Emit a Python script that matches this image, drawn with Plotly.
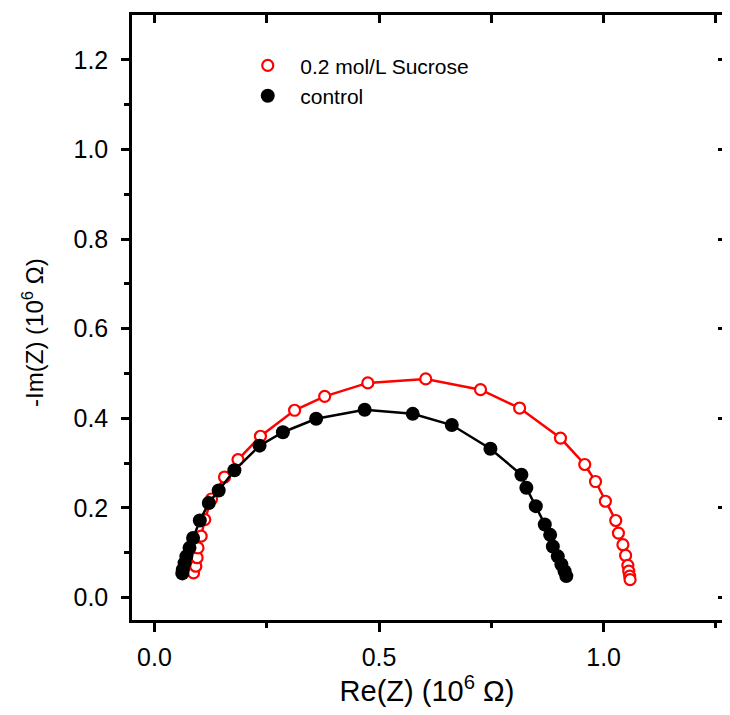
import plotly.graph_objects as go

# Nyquist data (units of 10^6 ohm)
sucrose_re = [0.087, 0.092, 0.095, 0.097, 0.104, 0.112, 0.127, 0.156, 0.186, 0.236,
              0.312, 0.379, 0.475, 0.604, 0.726, 0.813, 0.904, 0.958, 0.982, 1.004,
              1.027, 1.033, 1.043, 1.049, 1.054, 1.056, 1.058, 1.059]
sucrose_im = [0.055, 0.070, 0.089, 0.111, 0.137, 0.174, 0.220, 0.269, 0.308, 0.360,
              0.418, 0.449, 0.479, 0.488, 0.464, 0.423, 0.356, 0.297, 0.259, 0.215,
              0.172, 0.144, 0.118, 0.094, 0.072, 0.059, 0.048, 0.040]

control_re = [0.062, 0.063, 0.067, 0.071, 0.078, 0.086, 0.101, 0.121, 0.143, 0.178,
              0.234, 0.286, 0.360, 0.468, 0.575, 0.662, 0.748, 0.817, 0.828, 0.849,
              0.869, 0.881, 0.887, 0.898, 0.906, 0.913, 0.917]
control_im = [0.054, 0.062, 0.077, 0.092, 0.111, 0.133, 0.172, 0.211, 0.239, 0.284,
              0.339, 0.369, 0.399, 0.419, 0.410, 0.385, 0.332, 0.274, 0.245, 0.204,
              0.163, 0.140, 0.114, 0.092, 0.074, 0.059, 0.048]

x_ticks = [0.0, 0.5, 1.0]
x_tick_text = ["0.0", "0.5", "1.0"]
x_minor = [0.25, 0.75, 1.25]
y_ticks = [0.0, 0.2, 0.4, 0.6, 0.8, 1.0, 1.2]
y_tick_text = ["0.0", "0.2", "0.4", "0.6", "0.8", "1.0", "1.2"]
y_minor = [0.1, 0.3, 0.5, 0.7, 0.9, 1.1]
top_ticks = [0.0, 0.25, 0.5, 0.75, 1.0, 1.25]

# the original figure is cropped on the right, so the x range stops short of 1.3
x_range = [-0.05, 1.2636]
y_range = [-0.05, 1.3]

font_family = "Liberation Sans, Arial, sans-serif"
red = "#ff0000"

fig = go.Figure()

# lines first, markers on top; only the marker traces go in the legend
fig.add_trace(go.Scatter(x=sucrose_re, y=sucrose_im, mode="lines",
                         line=dict(color=red, width=2.5),
                         showlegend=False, hoverinfo="skip"))
fig.add_trace(go.Scatter(x=sucrose_re, y=sucrose_im, mode="markers",
                         name="0.2 mol/L Sucrose",
                         marker=dict(symbol="circle", size=11, color="white",
                                     line=dict(color=red, width=2.2))))
fig.add_trace(go.Scatter(x=control_re, y=control_im, mode="lines",
                         line=dict(color="black", width=2.5),
                         showlegend=False, hoverinfo="skip"))
fig.add_trace(go.Scatter(x=control_re, y=control_im, mode="markers",
                         name="control",
                         marker=dict(symbol="circle", size=14, color="black")))
# invisible trace so the mirror axes (top / right) get drawn
fig.add_trace(go.Scatter(x=control_re, y=control_im, xaxis="x2", yaxis="y2",
                         mode="markers", marker=dict(opacity=0),
                         showlegend=False, hoverinfo="skip"))

tick_style = dict(tickcolor="black", tickwidth=2.5)

fig.update_layout(
    width=714, height=699,
    margin=dict(l=124, r=0, t=7, b=87),
    paper_bgcolor="white", plot_bgcolor="white",
    font=dict(family=font_family, color="black", size=24),
    showlegend=True,
    legend=dict(x=0.175, y=0.95, xanchor="left", yanchor="top",
                font=dict(size=21), itemwidth=55,
                bgcolor="rgba(0,0,0,0)", tracegroupgap=0),
    xaxis=dict(
        range=x_range, showgrid=False, zeroline=False,
        showline=True, linecolor="black", linewidth=2.5,
        ticks="outside", ticklen=9, **tick_style,
        tickvals=x_ticks, ticktext=x_tick_text,
        tickfont=dict(size=25), ticklabelstandoff=4,
        minor=dict(tickvals=x_minor, ticks="outside", ticklen=5, **tick_style),
        title=dict(text="Re(Z) (10<sup>6</sup> Ω)", standoff=15),
    ),
    yaxis=dict(
        range=y_range, showgrid=False, zeroline=False,
        showline=True, linecolor="black", linewidth=2.5,
        ticks="outside", ticklen=8, **tick_style,
        tickvals=y_ticks, ticktext=y_tick_text,
        tickfont=dict(size=25), ticklabelstandoff=8,
        minor=dict(tickvals=y_minor, ticks="outside", ticklen=5, **tick_style),
    ),
    xaxis2=dict(
        overlaying="x", side="top", anchor="y2", range=x_range,
        showgrid=False, zeroline=False, showticklabels=False,
        showline=True, linecolor="black", linewidth=2.5,
        ticks="inside", ticklen=8, **tick_style,
        tickvals=top_ticks,
    ),
    yaxis2=dict(
        overlaying="y", side="right", anchor="x2", range=y_range,
        showgrid=False, zeroline=False, showticklabels=False,
        showline=False,
        ticks="inside", ticklen=4, **tick_style,
        tickvals=y_ticks,
    ),
)

# y title as an annotation: in the original it sits a little below the axis middle
fig.add_annotation(
    text="-Im(Z) (10<sup>6</sup> Ω)", textangle=-90,
    xref="paper", yref="paper", x=-0.168, y=0.476,
    xanchor="center", yanchor="middle", showarrow=False,
    font=dict(size=24),
)

fig.write_html("out.html")
